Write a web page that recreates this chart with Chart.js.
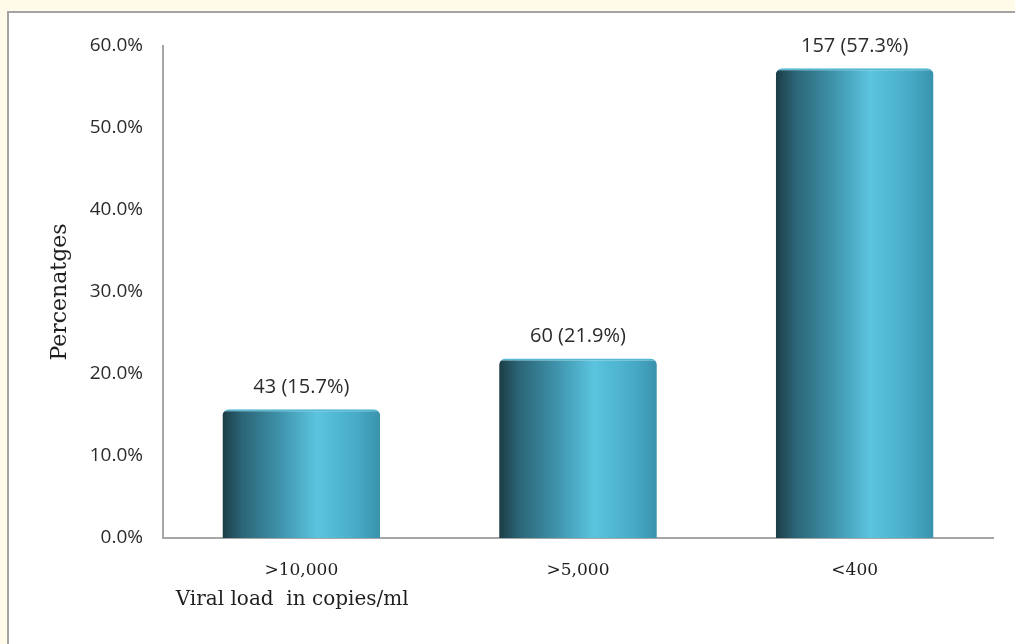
<!DOCTYPE html>
<html lang="en">
<head>
  <meta charset="UTF-8" />
  <title>Viral load in copies/ml</title>
  <script src="https://cdn.jsdelivr.net/npm/chart.js"></script>
  <style>
    html, body { margin: 0; padding: 0; }
    body { background: #fffbe8; width: 1015px; height: 644px; overflow: hidden; position: relative; }
    #frame { position: absolute; left: 7px; top: 11px; width: 1030px; height: 660px; background: #fff; border: 2px solid #a3a3a3; }
    #wrap { position: absolute; left: 0; top: 0; width: 1015px; height: 644px; }
  </style>
</head>
<body>
  <div id="frame"></div>
  <div id="wrap"><canvas id="viralChart" width="1015" height="644"></canvas></div>

  <script>
    // values
    const categories = ['>10,000', '>5,000', '<400'];
    const counts = [43, 60, 157];
    const percents = [15.7, 21.9, 57.3];
    const yTicks = [0, 10, 20, 30, 40, 50, 60];

    const barPct = 0.57;

    // cylinder-like shading across each bar
    function barFill(c) {
      const chart = c.chart;
      const xs = chart.scales && chart.scales.x;
      if (!xs || !chart.chartArea) return '#3d93ab';
      const cx = xs.getPixelForValue(c.dataIndex);
      const w = (xs.width / categories.length) * barPct;
      const g = chart.ctx.createLinearGradient(cx - w / 2, 0, cx + w / 2, 0);
      g.addColorStop(0, '#1c3c46');
      g.addColorStop(0.12, '#2b6475');
      g.addColorStop(0.35, '#3d90a8');
      g.addColorStop(0.6, '#5bc4df');
      g.addColorStop(0.85, '#47abc8');
      g.addColorStop(1, '#3a92ab');
      return g;
    }

    // labels above the bars: "n (x%)"
    const barLabels = {
      id: 'barLabels',
      afterDatasetsDraw(chart) {
        const ctx = chart.ctx;
        const meta = chart.getDatasetMeta(0);
        ctx.save();
        ctx.font = '20px "Open Sans"';
        ctx.fillStyle = '#2b2b2b';
        ctx.textAlign = 'center';
        ctx.textBaseline = 'middle';
        meta.data.forEach((bar, i) => {
          ctx.fillText(counts[i] + ' (' + percents[i].toFixed(1) + '%)', bar.x, bar.y - 22);
        });
        ctx.restore();
      }
    };

    const chart = new Chart(document.getElementById('viralChart'), {
      type: 'bar',
      data: {
        labels: categories,
        datasets: [{
          data: percents,
          backgroundColor: barFill,
          borderColor: '#56b8d3',
          borderWidth: { top: 2, left: 0, right: 0, bottom: 0 },
          borderRadius: { topLeft: 6, topRight: 6 },
          borderSkipped: 'bottom',
          barPercentage: barPct,
          categoryPercentage: 1
        }]
      },
      options: {
        responsive: false,
        animation: false,
        layout: { padding: { left: 30, right: 22, top: 46, bottom: 20 } },
        plugins: { legend: { display: false }, tooltip: { enabled: false } },
        scales: {
          x: {
            grid: { display: false, drawTicks: false },
            border: { color: '#a6a6a6', width: 2 },
            ticks: { color: '#1f1f1f', font: { family: 'DejaVu Serif', size: 17 }, padding: 22 },
            title: {
              display: true, align: 'start', text: '  Viral load  in copies/ml',
              color: '#1f1f1f', font: { family: 'DejaVu Serif', size: 20 },
              padding: { top: 0, bottom: 12 }
            },
            afterFit(s) { s.height = 86; }
          },
          y: {
            min: 0, max: 60,
            grid: { display: false, drawTicks: false },
            border: { color: '#a6a6a6', width: 2 },
            afterBuildTicks(s) { s.ticks = yTicks.map(v => ({ value: v })); },
            ticks: {
              color: '#2b2b2b', padding: 20,
              font: { family: 'Open Sans', size: 19 },
              callback: v => v.toFixed(1) + '%'
            },
            title: {
              display: true, text: 'Percenatges', color: '#1f1f1f',
              font: { family: 'DejaVu Serif', size: 22 },
              padding: { top: 17, bottom: 0 }
            },
            afterFit(s) { s.width = 133; }
          }
        }
      },
      plugins: [barLabels]
    });
  </script>
</body>
</html>
